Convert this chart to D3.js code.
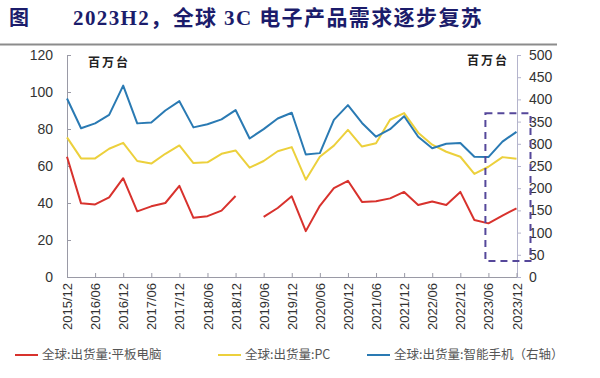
<!DOCTYPE html>
<html>
<head>
<meta charset="utf-8">
<script src="https://cdn.jsdelivr.net/npm/d3@7"></script>
<style>
  body { margin: 0; background: #fff; }
  text { font-family: "Liberation Sans", Arial, sans-serif; }
</style>
</head>
<body>
<div id="chart"></div>
<script>
// quarterly shipments, millions of units
const quarters = []
for (let y = 2015; y <= 2023; y++) {
  ['03', '06', '09', '12'].forEach(m => {
    const q = y + '/' + m
    if (q >= '2015/12') quarters.push(q)
  })
}

const tablet = [65, 39.8, 39.2, 43, 53.4, 35.5, 38.2, 40, 49.3, 32, 32.9, 35.9, 43.8, null,
  32.5, 37.3, 43.6, 24.8, 38.5, 48, 52, 40.6, 40.9, 42.5, 46, 38.9, 40.8, 38.9, 46,
  30.8, 29, 33.2, 37.1]
const pc = [75.5, 64.1, 64.1, 69.3, 72.5, 62.7, 61.3, 66.6, 71.1, 61.6, 62, 66.6, 68.4, 59.1,
  62.7, 68, 70.2, 52.6, 65, 71, 79.5, 70.5, 72.3, 85, 88.6, 78, 71.5, 67.7, 65,
  55.7, 59.6, 64.8, 63.9]
const phone = [402, 335, 346, 365, 431, 346, 348, 375, 396, 337, 344, 355, 376, 312,
  333, 357, 370, 276, 279, 354, 387, 347, 316, 333, 362, 316, 290, 300, 302,
  271, 270, 305, 327]

const leftTicks = [0, 20, 40, 60, 80, 100, 120]
const rightTicks = [0, 50, 100, 150, 200, 250, 300, 350, 400, 450, 500]
const xTicks = quarters.filter((q, i) => i % 2 === 0)

const series = [
  { name: '全球:出货量:平板电脑', values: tablet, axis: 'left', color: '#d8322d' },
  { name: '全球:出货量:PC', values: pc, axis: 'left', color: '#ecd03c' },
  { name: '全球:出货量:智能手机（右轴）', values: phone, axis: 'right', color: '#2a7ab3' }
]

// highlighted recovery window (right-axis units)
const box = { from: '2023/06', to: '2023/12', low: 36, high: 369 }

const width = 600, height = 378
const svg = d3.select('#chart').append('svg')
  .attr('width', width)
  .attr('height', height)

// title
const serif = '"Liberation Serif", "Noto Sans CJK SC", serif'
svg.append('text')
  .attr('x', 9).attr('y', 25)
  .attr('font-size', 20).attr('font-weight', 'bold').attr('fill', '#1b1c6b')
  .style('font-family', '"Noto Sans CJK SC", serif')
  .text('图')
svg.append('text')
  .attr('x', 73).attr('y', 25)
  .attr('font-size', 21).attr('font-weight', 'bold').attr('fill', '#1b1c6b')
  .attr('letter-spacing', 1.4)
  .style('font-family', serif)
  .text('2023H2，全球 3C 电子产品需求逐步复苏')

svg.append('line')
  .attr('x1', 0).attr('x2', 557)
  .attr('y1', 44.5).attr('y2', 44.5)
  .attr('stroke', '#8c8c8c')
  .attr('stroke-width', 2)

const x = d3.scalePoint().domain(quarters).range([67, 516.5])
const yL = d3.scaleLinear().domain([0, 120]).range([277, 55])
const yR = d3.scaleLinear().domain([0, 500]).range([277, 55])

// axes
const axL = svg.append('g')
  .attr('transform', 'translate(67,0)')
  .call(d3.axisLeft(yL).tickValues(leftTicks).tickSize(-4).tickPadding(14))
axL.select('.domain').attr('stroke', '#9a9aa6')
axL.selectAll('.tick line').attr('stroke', '#9a9aa6')
axL.selectAll('.tick text').attr('font-size', 14).attr('fill', '#333')

const axR = svg.append('g')
  .attr('transform', 'translate(517,0)')
  .call(d3.axisRight(yR).tickValues(rightTicks).tickSize(4).tickPadding(8))
axR.select('.domain').attr('stroke', '#b4b4cc')
axR.selectAll('.tick line').attr('stroke', '#b4b4cc')
axR.selectAll('.tick text').attr('font-size', 14).attr('fill', '#333')

const axX = svg.append('g')
  .attr('transform', 'translate(0,277)')
  .call(d3.axisBottom(x).tickValues(xTicks).tickSize(-4).tickSizeOuter(0))
axX.select('.domain').attr('stroke', '#9a9aa6')
axX.selectAll('.tick line').attr('stroke', '#9a9aa6')
axX.selectAll('.tick text')
  .attr('font-size', 13)
  .attr('fill', '#333')
  .attr('text-anchor', 'end')
  .attr('transform', 'rotate(-90)')
  .attr('x', -6)
  .attr('y', 0)
  .attr('dy', '0.35em')

// unit labels
svg.append('text')
  .attr('x', 88).attr('y', 67)
  .attr('font-size', 12).attr('font-weight', 'bold').attr('fill', '#222')
  .attr('letter-spacing', 2)
  .style('font-family', '"Noto Sans CJK SC", sans-serif')
  .text('百万台')
svg.append('text')
  .attr('x', 467).attr('y', 65)
  .attr('font-size', 12).attr('font-weight', 'bold').attr('fill', '#222')
  .attr('letter-spacing', 2)
  .style('font-family', '"Noto Sans CJK SC", sans-serif')
  .text('百万台')

// lines
series.forEach(s => {
  const y = s.axis === 'left' ? yL : yR
  const line = d3.line()
    .defined(d => d != null)
    .x((d, i) => x(quarters[i]))
    .y(d => y(d))
  svg.append('path')
    .datum(s.values)
    .attr('fill', 'none')
    .attr('stroke', s.color)
    .attr('stroke-width', 2)
    .attr('stroke-linejoin', 'round')
    .attr('d', line)
})

// dashed highlight box
svg.append('rect')
  .attr('x', x(box.from) - 3)
  .attr('y', yR(box.high))
  .attr('width', x(box.to) - x(box.from) + 17)
  .attr('height', yR(box.low) - yR(box.high))
  .attr('fill', 'none')
  .attr('stroke', '#55479a')
  .attr('stroke-width', 2)
  .attr('stroke-dasharray', '7,5')

// legend
const legendX = [15, 218, 367]
const legend = svg.append('g').attr('transform', 'translate(0,355)')
series.forEach((s, i) => {
  const g = legend.append('g').attr('transform', `translate(${legendX[i]},0)`)
  g.append('line')
    .attr('x1', 0).attr('x2', 23)
    .attr('stroke', s.color).attr('stroke-width', 2)
  g.append('text')
    .attr('x', 27).attr('dy', '0.35em')
    .attr('font-size', 12.5).attr('fill', '#555')
    .style('font-family', '"Noto Sans CJK SC", sans-serif')
    .text(s.name)
})
</script>
</body>
</html>
